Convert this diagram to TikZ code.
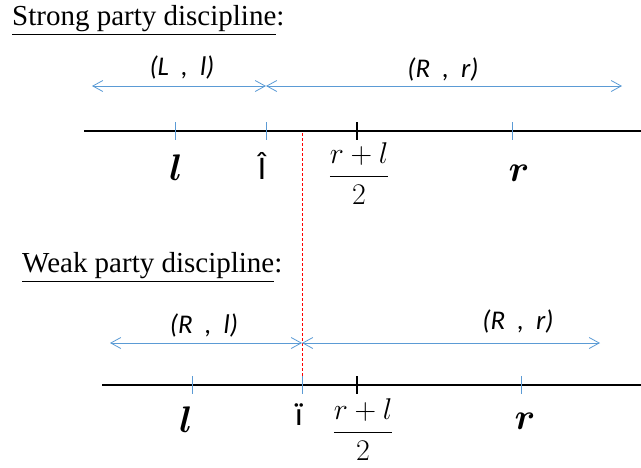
\RequirePackage{fix-cm}
\documentclass[tikz,border=0pt]{standalone}
\usepackage{amsmath,bm}
\usepackage{fontspec}
\setmainfont{Liberation Serif}
\newfontfamily\calib{Carlito}
\usetikzlibrary{arrows.meta}
\definecolor{lblue}{RGB}{91,155,213}
\newcommand{\gp}{\hspace{0.45em}}
\begin{document}
\begin{tikzpicture}[x=1pt,y=-1pt,
  axisline/.style={line width=2.4pt,black},
  btick/.style={draw=lblue,line width=1pt},
  ktick/.style={draw=black,line width=1.8pt},
  rng/.style={draw=lblue,line width=0.8pt,{Straight Barb[length=10pt,width=11pt]}-{Straight Barb[length=10pt,width=11pt]}},
  rangelab/.style={font=\calib\itshape\fontsize{27}{29}\selectfont,inner sep=0pt},
  ttl/.style={font=\fontsize{29}{31}\selectfont,inner sep=0pt,anchor=base west},
  bsym/.style={font=\fontsize{37}{39}\selectfont,inner sep=0pt},
  frac/.style={font=\fontsize{30}{32}\selectfont,inner sep=0pt},
  glyph/.style={font=\calib\fontsize{33}{35}\selectfont,inner sep=0pt},
  sep/.style={draw=red,line width=1pt,dash pattern=on 3pt off 2pt}
]
\useasboundingbox (0,0) rectangle (641,467);

% titles
\node[ttl] (t1) at (12,25) {\underline{Strong party discipline}:};
\node[ttl] (t2) at (22,272) {\underline{Weak party discipline}:};

% ---------- top ----------
\coordinate (a1) at (84,131);
\coordinate (a2) at (641,131);
\coordinate (s1) at (92,86);
\coordinate (s2) at (266,86);
\coordinate (s3) at (622,86);
\coordinate (d1) at (302,133);
\coordinate (d2) at (302,377);

\draw[sep] (d1) -- (d2);
\draw[axisline] (a1) -- (a2);
\draw[btick] (175,122) -- (175,140);
\draw[btick] (266,122) -- (266,140);
\draw[ktick] (357,122) -- (357,140);
\draw[btick] (512,122) -- (512,140);

\draw[rng] (s1) -- (s2);
\draw[rng] (s2) -- (s3);
\node[rangelab] (lab1) at (182,67) {(L\gp,\gp l)};
\node[rangelab] (lab2) at (443,69) {(R\gp,\gp r)};

\node[bsym] (l1) at (176,168) {$\bm{l}$};
\node[glyph] (c1) at (262,166) {Î};
\node[frac] (f1) at (359,174) {$\dfrac{r+l}{2}$};
\node[bsym] (r1) at (519,173) {$\bm{r}$};

% ---------- bottom ----------
\coordinate (b1) at (102,385);
\coordinate (b2) at (641,385);
\coordinate (w1) at (110,343);
\coordinate (w2) at (302,343);
\coordinate (w3) at (600,343);

\draw[axisline] (b1) -- (b2);
\draw[btick] (192,376) -- (192,394);
\draw[btick] (302,376) -- (302,394);
\draw[ktick] (357,376) -- (357,394);
\draw[btick] (521,376) -- (521,394);

\draw[rng] (w1) -- (w2);
\draw[rng] (w2) -- (w3);
\node[rangelab] (lab3) at (204,325) {(R\gp,\gp l)};
\node[rangelab] (lab4) at (518,321) {(R\gp,\gp r)};

\node[bsym] (l2) at (186,420) {$\bm{l}$};
\node[glyph] (c2) at (299,415) {ï};
\node[frac] (f2) at (363,430) {$\dfrac{r+l}{2}$};
\node[bsym] (r2) at (525,421) {$\bm{r}$};
\end{tikzpicture}
\end{document}
